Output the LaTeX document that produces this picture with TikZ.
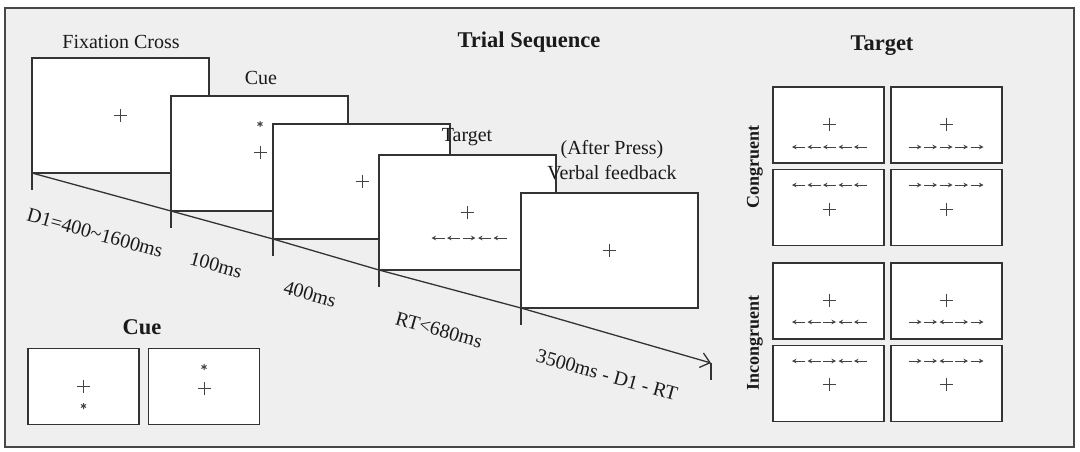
\documentclass[tikz,border=0pt]{standalone}
\usepackage{fontspec}
\setmainfont{Liberation Serif}
\usetikzlibrary{arrows.meta}
\definecolor{framec}{HTML}{333333}
\definecolor{bgc}{HTML}{EFEFEF}
\definecolor{inkc}{HTML}{1A1A1A}
\definecolor{stimc}{HTML}{444444}
\newcommand\fixcross[2]{\draw[crossline] (#1,#2) +(-6.5,0) -- +(6.5,0) +(0,-6.5) -- +(0,6.5);}
\newcommand\cueast[2]{\draw[astline] (#1,#2) +(0,-3) -- +(0,3) +(-2.6,-1.5) -- +(2.6,1.5) +(-2.6,1.5) -- +(2.6,-1.5);}
\newcommand\stimrow[3]{%
  \foreach \d [count=\i from 0] in {#3} {
    \draw[flank] ({#1+(\i-2)*15.5-6.5*\d},#2) -- ({#1+(\i-2)*15.5+6.5*\d},#2);
  }}
\begin{document}
\begin{tikzpicture}[x=1pt,y=-1pt,
  screen/.style={draw=framec, line width=1.3pt, fill=white, minimum width=177pt, minimum height=115pt, outer sep=0pt, inner sep=0pt},
  smallscreen/.style={draw=framec, line width=1.3pt, fill=white, minimum width=111pt, minimum height=76pt, outer sep=0pt, inner sep=0pt},
  lbl/.style={text=inkc, font=\fontsize{20}{24}\selectfont, inner sep=0pt},
  title/.style={text=inkc, font=\fontsize{22.5}{26}\selectfont\bfseries, inner sep=0pt},
  sidelbl/.style={text=inkc, font=\fontsize{18}{21}\selectfont\bfseries, inner sep=0pt, rotate=90},
  tlbl/.style={lbl, rotate=-15.5},
  tline/.style={draw=framec, line width=1.3pt},
  crossline/.style={draw=stimc, line width=0.85pt},
  astline/.style={draw=stimc, line width=1pt},
  flank/.style={draw=stimc, line width=0.9pt, -{Stealth[length=4.5pt,width=4.5pt]}}
]
\useasboundingbox (0,0) rectangle (1080,451);
\fill[white] (0,0) rectangle (1080,451);
\draw[draw=framec!90, line width=1.6pt, fill=bgc] (5,8) rectangle (1074,447);

% ---- trial sequence screens ----
\node[screen] (fix) at (120.5,115.5) {};
\fixcross{120.5}{115.5}
\node[screen] (cue) at (259.5,153.5) {};
\cueast{260}{124}
\fixcross{260}{152}
\node[screen] (ctoa) at (361.5,181.5) {};
\fixcross{362}{181}
\node[screen] (targ) at (467.5,212.5) {};
\fixcross{467}{212}
\stimrow{469}{238}{-1,-1,1,-1,-1}
\node[screen] (fb) at (609.5,250.5) {};
\fixcross{609}{250}

% ---- timeline ----
\coordinate (tend) at (711,363);
\draw[tline] (fix.south west) -- (cue.south west) -- (ctoa.south west) -- (targ.south west) -- (fb.south west);
\draw[tline, -{Straight Barb[length=9pt,width=15pt]}] (fb.south west) -- (tend);
\foreach \s in {fix,cue,ctoa,targ,fb} {\draw[tline] (\s.south west) -- ++(0,17);}
\draw[tline] (tend) -- ++(0,17);

% ---- labels ----
\node[lbl] (lfix) at (121,42) {Fixation Cross};
\node[lbl] (lcue) at (261,78) {Cue};
\node[lbl] (ltarg) at (467,137) {Target};
\node[lbl] (lafter) at (612,150) {(After Press)};
\node[lbl] (lfb) at (612,173) {Verbal feedback};
\node[title] (ltrial) at (529,42) {Trial Sequence};

\node[tlbl] (t1) at (95,233) {D1=400\textasciitilde1600ms};
\node[tlbl] (t2) at (216,265) {100ms};
\node[tlbl] (t3) at (310,294) {400ms};
\node[tlbl] (t4) at (439,330) {RT<680ms};
\node[tlbl] (t5) at (607,375) {3500ms - D1 - RT};

% ---- cue panel ----
\node[title] (lcuep) at (142,327) {Cue};
\node[smallscreen] (cueA) at (83.5,386.5) {};
\fixcross{83.5}{386}
\cueast{83.5}{406}
\node[smallscreen] (cueB) at (204,386.5) {};
\cueast{204}{367}
\fixcross{204}{388}

% ---- target panel ----
\node[title] (ltargp) at (882,46) {Target};
\node[sidelbl] (lcong) at (755,167) {Congruent};
\node[sidelbl] (lincong) at (755,343) {Incongruent};

\node[smallscreen] (c11) at (828.5,125) {};
\fixcross{829}{124}
\stimrow{829.5}{147}{-1,-1,-1,-1,-1}
\node[smallscreen] (c12) at (946.5,125) {};
\fixcross{946}{124}
\stimrow{946}{147}{1,1,1,1,1}
\node[smallscreen] (c21) at (828.5,207.5) {};
\stimrow{829.5}{185}{-1,-1,-1,-1,-1}
\fixcross{829}{209}
\node[smallscreen] (c22) at (946.5,207.5) {};
\stimrow{946}{185}{1,1,1,1,1}
\fixcross{946}{209}

\node[smallscreen] (i11) at (828.5,301) {};
\fixcross{829}{300}
\stimrow{829.5}{322}{-1,-1,1,-1,-1}
\node[smallscreen] (i12) at (946.5,301) {};
\fixcross{946}{300}
\stimrow{946}{322}{1,1,-1,1,1}
\node[smallscreen] (i21) at (828.5,383.5) {};
\stimrow{829.5}{361}{-1,-1,1,-1,-1}
\fixcross{829}{384}
\node[smallscreen] (i22) at (946.5,383.5) {};
\stimrow{946}{361}{1,1,-1,1,1}
\fixcross{946}{384}
\end{tikzpicture}
\end{document}
